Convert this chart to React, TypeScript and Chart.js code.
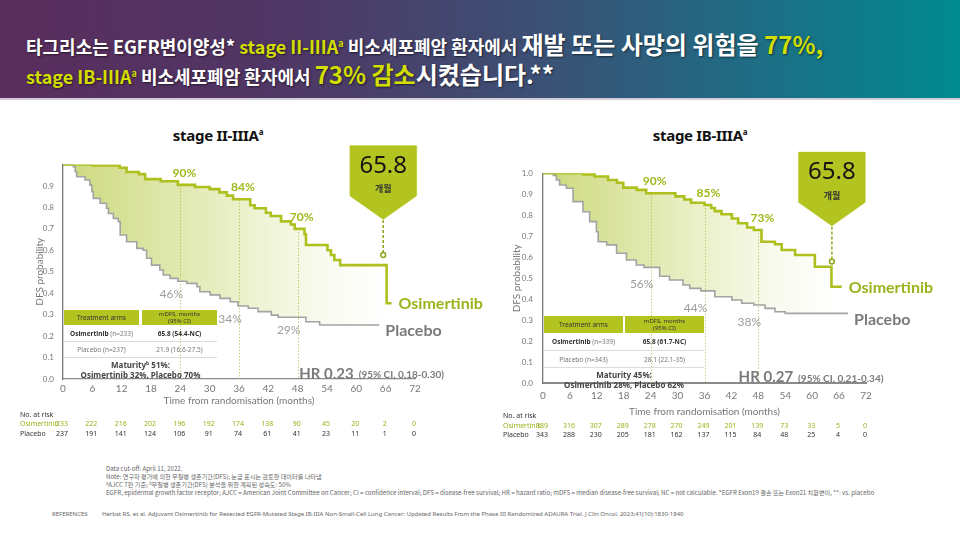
import React, { useEffect, useRef } from "react";
import { Chart, registerables } from "chart.js";

Chart.register(...registerables);

// ---------- data ----------
const monthTicks = [0, 6, 12, 18, 24, 30, 36, 42, 48, 54, 60, 66, 72];
const landmarkMonths = [24, 36, 48];

// stage II-IIIA
const osiIITime = [0, 6.1, 11.6, 13, 15.5, 16.8, 20, 23.5, 27, 30, 32, 33.5, 34.8, 38.3, 39.2, 41.5, 42.5, 44.6, 46.6, 47.4, 49.4, 49.7, 54.1, 54.8, 55.5, 56.7, 66.2, 67.2];
const osiIISurv = [1, 0.995, 0.985, 0.965, 0.955, 0.932, 0.922, 0.905, 0.895, 0.885, 0.87, 0.855, 0.838, 0.81, 0.796, 0.775, 0.76, 0.735, 0.72, 0.7, 0.675, 0.625, 0.6, 0.578, 0.555, 0.531, 0.353, 0.353];
const pboIITime = [0, 2.1, 2.5, 2.8, 4.5, 5.5, 5.9, 6.2, 7.6, 8.9, 9.3, 10.3, 11.3, 11.7, 13, 15.1, 16.4, 17.1, 18.1, 19.8, 20.5, 21.9, 23.5, 25.3, 27.4, 28, 30.1, 32.1, 34.2, 35.8, 37.9, 39.9, 42.6, 44, 49.7, 52.5, 64.7];
const pboIISurv = [1, 0.99, 0.966, 0.943, 0.928, 0.904, 0.873, 0.842, 0.819, 0.796, 0.772, 0.749, 0.733, 0.671, 0.64, 0.609, 0.6, 0.563, 0.531, 0.508, 0.485, 0.469, 0.456, 0.446, 0.43, 0.407, 0.392, 0.376, 0.36, 0.34, 0.33, 0.314, 0.298, 0.288, 0.267, 0.252, 0.252];
const osiIIPct = ["90%", "84%", "70%"];
const pboIIPct = ["46%", "34%", "29%"];
const riskOsiII = [233, 222, 216, 202, 196, 192, 174, 138, 90, 45, 20, 2, 0];
const riskPboII = [237, 191, 141, 124, 106, 91, 74, 61, 41, 23, 11, 1, 0];

// stage IB-IIIA
const osiIBTime = [0, 9, 11.5, 14.5, 16.5, 17.9, 20.9, 23, 29.5, 31.5, 33, 36, 37.5, 38.3, 39.8, 42.1, 43.5, 45.5, 47, 48.7, 51.7, 53.2, 56.2, 60.6, 64.3, 66.6];
const osiIBSurv = [1, 0.995, 0.985, 0.968, 0.955, 0.932, 0.921, 0.905, 0.89, 0.875, 0.86, 0.849, 0.835, 0.82, 0.805, 0.785, 0.762, 0.742, 0.73, 0.674, 0.662, 0.635, 0.611, 0.555, 0.46, 0.46];
const pboIBTime = [0, 2.3, 3, 3.7, 5.2, 6.7, 8.9, 10.4, 11.9, 12.3, 14.2, 16.4, 18.6, 20.8, 22.5, 26, 28.2, 31.2, 32.7, 35.2, 38.3, 42.1, 44.3, 47, 49.5, 51.7, 54, 68];
const pboIBSurv = [1, 0.99, 0.968, 0.944, 0.929, 0.865, 0.817, 0.77, 0.722, 0.674, 0.659, 0.619, 0.587, 0.563, 0.552, 0.51, 0.492, 0.468, 0.452, 0.44, 0.412, 0.397, 0.381, 0.373, 0.357, 0.341, 0.333, 0.333];
const osiIBPct = ["90%", "85%", "73%"];
const pboIBPct = ["56%", "44%", "38%"];
const riskOsiIB = [339, 316, 307, 289, 278, 270, 249, 201, 139, 73, 33, 5, 0];
const riskPboIB = [343, 288, 230, 205, 181, 162, 137, 115, 84, 48, 25, 4, 0];

// ---------- style ----------
const GREEN = "#adc01e";
const GREEN_TXT = "#a2b71a";
const GRAY_LINE = "#a3a3a3";
const YEL = "#d2de00";
const CH_FONT = "Lato";

type KMCfg = {
  osiT: number[]; osiS: number[]; pboT: number[]; pboS: number[];
  osiPct: string[]; pboPct: string[];
  riskOsi: number[]; riskPbo: number[];
  hr: string; ci: string; hrAt: number; hrDy: number;
  calloutAt: number; calloutY: number;
  showTop: boolean;
  pad: { left: number; right: number; top: number; bottom: number };
  yW: number; xH: number; xTickPad: number; xTitlePad: number; yTickPad: number; yTitlePad: number;
  riskX: number; riskY: number[];
  pboOff: number; bottomBorder: number;
};

function stepValue(t: number[], s: number[], m: number) {
  let v = s[0];
  for (let i = 0; i < t.length; i++) if (t[i] <= m) v = s[i];
  return v;
}

function makePlugin(cfg: KMCfg) {
  return {
    id: "kmDecor",
    beforeDatasetsDraw(chart: any) {
      const { ctx, chartArea: a, scales } = chart;
      const x = scales.x, y = scales.y;
      ctx.save();
      ctx.strokeStyle = "rgba(160,180,40,0.75)";
      ctx.lineWidth = 1;
      ctx.setLineDash([1.2, 2]);
      landmarkMonths.forEach((m) => {
        const px = Math.round(x.getPixelForValue(m)) + 0.5;
        const py = y.getPixelForValue(stepValue(cfg.osiT, cfg.osiS, m));
        ctx.beginPath();
        ctx.moveTo(px, py);
        ctx.lineTo(px, a.bottom);
        ctx.stroke();
      });
      ctx.restore();
    },
    afterDatasetsDraw(chart: any) {
      const { ctx, chartArea: a, scales } = chart;
      const x = scales.x, y = scales.y;
      ctx.save();
      ctx.textBaseline = "middle";
      ctx.textAlign = "center";
      // landmark percentages
      landmarkMonths.forEach((m, i) => {
        const px = x.getPixelForValue(m);
        const oy = y.getPixelForValue(stepValue(cfg.osiT, cfg.osiS, m));
        const gy = y.getPixelForValue(stepValue(cfg.pboT, cfg.pboS, m));
        ctx.font = `bold 12px ${CH_FONT}`;
        ctx.fillStyle = GREEN_TXT;
        ctx.fillText(cfg.osiPct[i], px + 4, oy - 12);
        ctx.font = `12px ${CH_FONT}`;
        ctx.fillStyle = "#9d9d9d";
        ctx.fillText(cfg.pboPct[i], px - 9, gy + cfg.pboOff);
      });

      // callout
      const cx = x.getPixelForValue(cfg.calloutAt);
      const cy = y.getPixelForValue(cfg.calloutY);
      ctx.strokeStyle = "#8fa318";
      ctx.lineWidth = 1.5;
      ctx.setLineDash([3, 2]);
      ctx.beginPath();
      ctx.moveTo(cx, cy - 35);
      ctx.lineTo(cx, cy - 3);
      ctx.stroke();
      ctx.setLineDash([]);
      ctx.beginPath();
      ctx.arc(cx, cy, 2.4, 0, Math.PI * 2);
      ctx.fillStyle = "#fff";
      ctx.fill();
      ctx.stroke();
      ctx.beginPath();
      ctx.moveTo(cx - 34, cy - 110);
      ctx.lineTo(cx + 34, cy - 110);
      ctx.lineTo(cx + 34, cy - 59);
      ctx.lineTo(cx, cy - 35);
      ctx.lineTo(cx - 34, cy - 59);
      ctx.closePath();
      ctx.fillStyle = "#b3c421";
      ctx.fill();
      ctx.strokeStyle = "rgba(255,255,255,0.7)";
      ctx.lineWidth = 1;
      ctx.stroke();
      ctx.fillStyle = "#151515";
      ctx.font = `24px "Noto Sans"`;
      ctx.fillText("65.8", cx, cy - 89);
      ctx.font = `bold 9px "Noto Sans CJK KR"`;
      ctx.fillStyle = "#333";
      ctx.fillText("개월", cx, cy - 66);

      // end labels
      ctx.textAlign = "left";
      const lo = cfg.osiT.length - 1, lp = cfg.pboT.length - 1;
      ctx.font = `bold 16px ${CH_FONT}`;
      ctx.fillStyle = "#9db21b";
      ctx.fillText("Osimertinib", x.getPixelForValue(cfg.osiT[lo]) + 7, y.getPixelForValue(cfg.osiS[lo]) + 1);
      ctx.fillStyle = "#7a7a7a";
      ctx.fillText("Placebo", x.getPixelForValue(cfg.pboT[lp]) + 6, y.getPixelForValue(cfg.pboS[lp]) + 6);

      // HR
      const hx = x.getPixelForValue(cfg.hrAt);
      const hy = a.bottom - cfg.hrDy;
      ctx.font = `bold 15px ${CH_FONT}`;
      ctx.fillStyle = "#7a7a7a";
      ctx.fillText(cfg.hr, hx, hy);
      const w = ctx.measureText(cfg.hr).width;
      ctx.font = `bold 10px ${CH_FONT}`;
      ctx.fillText(cfg.ci, hx + w + 5, hy + 1);

      // number at risk
      ctx.font = `7px "Noto Sans"`;
      ctx.fillStyle = "#333";
      ctx.fillText("No. at risk", cfg.riskX, cfg.riskY[0]);
      ctx.fillStyle = "#9db21b";
      ctx.fillText("Osimertinib", cfg.riskX, cfg.riskY[1]);
      ctx.fillStyle = "#333";
      ctx.fillText("Placebo", cfg.riskX, cfg.riskY[2]);
      ctx.textAlign = "center";
      monthTicks.forEach((m, i) => {
        const px = x.getPixelForValue(m) - 1;
        ctx.fillStyle = "#9db21b";
        ctx.fillText(String(cfg.riskOsi[i]), px, cfg.riskY[1]);
        ctx.fillStyle = "#333";
        ctx.fillText(String(cfg.riskPbo[i]), px, cfg.riskY[2]);
      });
      ctx.restore();
    },
  };
}

function fillGradient(c: any) {
  const chart = c.chart;
  const a = chart.chartArea;
  if (!a) return "rgba(210,222,140,0.6)";
  const g = chart.ctx.createLinearGradient(a.left, 0, a.right - 25, 0);
  g.addColorStop(0, "rgb(204,217,124)");
  g.addColorStop(0.45, "rgb(230,237,190)");
  g.addColorStop(0.8, "rgb(249,251,240)");
  g.addColorStop(1, "rgb(255,255,255)");
  return g;
}

function buildConfig(cfg: KMCfg): any {
  return {
    type: "line",
    data: {
      datasets: [
        {
          label: "Osimertinib",
          data: cfg.osiT.map((t, i) => ({ x: t, y: cfg.osiS[i] })),
          stepped: "before",
          borderColor: GREEN,
          borderWidth: 2.6,
          pointRadius: 0,
          fill: { target: 1 },
          backgroundColor: fillGradient,
        },
        {
          label: "Placebo",
          data: cfg.pboT.map((t, i) => ({ x: t, y: cfg.pboS[i] })),
          stepped: "before",
          borderColor: GRAY_LINE,
          borderWidth: 1.6,
          pointRadius: 0,
          fill: false,
        },
      ],
    },
    options: {
      responsive: false,
      animation: false,
      layout: { padding: cfg.pad },
      plugins: {
        legend: { display: false },
        tooltip: { enabled: false },
        filler: { drawTime: "beforeDatasetsDraw" },
      },
      scales: {
        x: {
          type: "linear",
          min: 0,
          max: 72,
          afterBuildTicks: (s: any) => { s.ticks = monthTicks.map((v) => ({ value: v })); },
          ticks: { autoSkip: false, maxRotation: 0, padding: cfg.xTickPad, color: "#777", font: { family: CH_FONT, size: 10 } },
          grid: { display: false, drawTicks: false },
          border: { display: true, color: "#8a8a8a", width: cfg.bottomBorder },
          title: { display: true, text: "Time from randomisation (months)", color: "#777", font: { family: CH_FONT, size: 10 }, padding: { top: 0, bottom: cfg.xTitlePad } },
          afterFit: (s: any) => { s.height = cfg.xH; },
        },
        y: {
          min: 0,
          max: 1,
          ticks: {
            stepSize: 0.1,
            padding: cfg.yTickPad,
            color: "#777",
            font: { family: CH_FONT, size: 8 },
            callback: (v: any) => (!cfg.showTop && v > 0.99 ? "" : Number(v).toFixed(1)),
          },
          grid: { display: false, drawTicks: false },
          border: { display: true, color: "#777", width: 1.3 },
          title: { display: true, text: "DFS probability", color: "#777", font: { family: CH_FONT, size: 10 }, padding: { top: cfg.yTitlePad, bottom: 0 } },
          afterFit: (s: any) => { s.width = cfg.yW; },
        },
      },
    },
    plugins: [makePlugin(cfg)],
  };
}

const cfgII: KMCfg = {
  osiT: osiIITime, osiS: osiIISurv, pboT: pboIITime, pboS: pboIISurv,
  osiPct: osiIIPct, pboPct: pboIIPct, riskOsi: riskOsiII, riskPbo: riskPboII,
  hr: "HR 0.23", ci: "(95% CI, 0.18-0.30)", hrAt: 48.3, hrDy: 5,
  calloutAt: 65.5, calloutY: 0.578, showTop: false,
  pad: { left: 33, right: 85, top: 54.5, bottom: 31 },
  yW: 30, xH: 30, xTickPad: 4, xTitlePad: 2, yTickPad: 9, yTitlePad: 1,
  riskX: 20, riskY: [305, 313.5, 324], pboOff: 13, bottomBorder: 1.3,
};

const cfgIB: KMCfg = {
  osiT: osiIBTime, osiS: osiIBSurv, pboT: pboIBTime, pboS: pboIBSurv,
  osiPct: osiIBPct, pboPct: pboIBPct, riskOsi: riskOsiIB, riskPbo: riskPboIB,
  hr: "HR 0.27", ci: "(95% CI, 0.21-0.34)", hrAt: 43.6, hrDy: 6,
  calloutAt: 64.4, calloutY: 0.58, showTop: true,
  pad: { left: 29, right: 94, top: 63.3, bottom: 20.7 },
  yW: 34, xH: 36, xTickPad: 6, xTitlePad: 1.6, yTickPad: 10, yTitlePad: 1.7,
  riskX: 23, riskY: [306, 316, 324.7], pboOff: 17, bottomBorder: 2,
};

function KMChart(p: { cfg: KMCfg; left: number; top: number; width: number; height: number }) {
  const ref = useRef<HTMLCanvasElement>(null);
  useEffect(() => {
    const chart = new Chart(ref.current as HTMLCanvasElement, buildConfig(p.cfg));
    return () => chart.destroy();
  }, []);
  return (
    <div style={{ position: "absolute", left: p.left, top: p.top, width: p.width, height: p.height }}>
      <canvas ref={ref} width={p.width} height={p.height} style={{ width: p.width, height: p.height, display: "block" }} />
    </div>
  );
}

function ArmTable(p: {
  left: number; top: number; w1: number; w2: number; gap: number; headH: number; rowH: number;
  n1: string; n2: string; m1: string; m2: string; mat1: React.ReactNode; mat2: string;
}) {
  const W = p.w1 + p.gap + p.w2;
  const cell: React.CSSProperties = { display: "flex", alignItems: "center", justifyContent: "center", textAlign: "center" };
  return (
    <div style={{ position: "absolute", left: p.left, top: p.top, width: W, fontFamily: '"Noto Sans", sans-serif', color: "#333" }}>
      <div style={{ display: "flex", height: p.headH }}>
        <div style={{ ...cell, width: p.w1, background: "#b3c421", fontSize: 6.5 }}>Treatment arms</div>
        <div style={{ width: p.gap }} />
        <div style={{ ...cell, width: p.w2, background: "#b3c421", fontSize: 6, lineHeight: "6.5px", flexDirection: "column" }}>
          <div>mDFS, months</div>
          <div>(95% CI)</div>
        </div>
      </div>
      <div style={{ display: "flex", height: p.rowH, borderBottom: "1px solid #dcdcdc", fontSize: 6.5 }}>
        <div style={{ ...cell, width: p.w1 }}><b>Osimertinib</b>&nbsp;<span style={{ color: "#777" }}>{p.n1}</span></div>
        <div style={{ width: p.gap }} />
        <div style={{ ...cell, width: p.w2, fontWeight: 700 }}>{p.m1}</div>
      </div>
      <div style={{ display: "flex", height: p.rowH - 1, borderBottom: "1px solid #dcdcdc", fontSize: 6.5, color: "#777" }}>
        <div style={{ ...cell, width: p.w1 }}>Placebo {p.n2}</div>
        <div style={{ width: p.gap }} />
        <div style={{ ...cell, width: p.w2 }}>{p.m2}</div>
      </div>
      <div style={{ textAlign: "center", fontWeight: 700, fontSize: 8, lineHeight: "10px", marginTop: 2, color: "#444" }}>
        <div>{p.mat1}</div>
        <div>{p.mat2}</div>
      </div>
    </div>
  );
}

export default function App() {
  const sup = (t: string, size = 9, off = 7) => (
    <span style={{ fontSize: size, verticalAlign: off, lineHeight: 0 }}>{t}</span>
  );
  const titleStyle: React.CSSProperties = { position: "absolute", left: 26, whiteSpace: "nowrap", color: "#fff", fontFamily: '"Noto Sans CJK KR", sans-serif', fontWeight: 700, lineHeight: "32px", textShadow: "1px 1px 2px rgba(0,0,0,0.55)" };
  return (
    <div style={{ position: "absolute", left: 0, top: 0, width: 960, height: 534, background: "#fff", overflow: "hidden", fontFamily: '"Noto Sans", sans-serif' }}>
      <div style={{ position: "absolute", left: 0, top: 0, width: 960, height: 98, background: "linear-gradient(90deg, #5a2d5d 0%, #4f3765 30%, #3d4f74 55%, #1f6c84 78%, #008b8f 100%)" }} />
      <div style={{ position: "absolute", left: 0, top: 98, width: 960, height: 2, background: "#d3cdd9" }} />
      <div style={{ ...titleStyle, top: 28 }}>
        <span style={{ fontSize: 18 }}>타그리소는 EGFR변이양성* </span>
        <span style={{ fontSize: 18, color: YEL }}>stage II-IIIA{sup("a")}</span>
        <span style={{ fontSize: 18 }}> 비소세포폐암 환자에서 </span>
        <span style={{ fontSize: 24 }}>재발 또는 사망의 위험을 </span>
        <span style={{ fontSize: 24, color: YEL }}>77%,</span>
      </div>
      <div style={{ ...titleStyle, top: 58 }}>
        <span style={{ fontSize: 18, color: YEL }}>stage IB-IIIA{sup("a")}</span>
        <span style={{ fontSize: 18 }}> 비소세포폐암 환자에서 </span>
        <span style={{ fontSize: 24, color: YEL }}>73% 감소</span>
        <span style={{ fontSize: 24 }}>시켰습니다.**</span>
      </div>

      <div style={{ position: "absolute", left: 118, width: 200, top: 124, textAlign: "center", fontWeight: 700, fontSize: 15, color: "#111", lineHeight: "22px", letterSpacing: -0.3 }}>
        stage II-IIIA{sup("a", 8, 6)}
      </div>
      <div style={{ position: "absolute", left: 600, width: 200, top: 124, textAlign: "center", fontWeight: 700, fontSize: 15, color: "#111", lineHeight: "22px", letterSpacing: -0.3 }}>
        stage IB-IIIA{sup("a", 8, 6)}
      </div>

      <KMChart cfg={cfgII} left={0} top={110} width={500} height={330} />
      <KMChart cfg={cfgIB} left={480} top={110} width={480} height={330} />

      <ArmTable left={64} top={310} w1={75} w2={75} gap={3} headH={15} rowH={16}
        n1="(n=233)" n2="(n=237)" m1="65.8 (54.4-NC)" m2="21.9 (16.6-27.5)"
        mat1={<>Maturity{sup("b", 5, 3)} 51%:</>} mat2="Osimertinib 32%, Placebo 70%" />
      <ArmTable left={544} top={316} w1={79} w2={79} gap={2} headH={17} rowH={17}
        n1="(n=339)" n2="(n=343)" m1="65.8 (61.7-NC)" m2="28.1 (22.1-35)"
        mat1="Maturity 45%:" mat2="Osimertinib 28%, Placebo 62%" />

      <div style={{ position: "absolute", left: 106, top: 465, fontSize: 6.15, lineHeight: "8px", color: "#666", whiteSpace: "nowrap", fontFamily: '"Noto Sans CJK KR", sans-serif' }}>
        <div>Data cut-off: April 11, 2022.</div>
        <div>Note: 연구자 평가에 의한 무질병 생존기간(DFS); 눈금 표시는 검토한 데이터를 나타냄</div>
        <div>{sup("a", 4, 2)}AJCC 7판 기준; {sup("b", 4, 2)}무질병 생존기간(DFS) 분석을 위한 계획된 성숙도: 50%</div>
        <div>EGFR, epidermal growth factor receptor; AJCC = American Joint Committee on Cancer; CI = confidence interval; DFS = disease-free survival; HR = hazard ratio; mDFS = median disease-free survival; NC = not calculable. *EGFR Exon19 결손 또는 Exon21 치환변이, **: vs. placebo</div>
      </div>
      <div style={{ position: "absolute", left: 52, top: 510, fontSize: 6, lineHeight: "8px", color: "#666", whiteSpace: "nowrap" }}>REFERENCES</div>
      <div style={{ position: "absolute", left: 102, top: 510, fontSize: 6, lineHeight: "8px", color: "#666", whiteSpace: "nowrap" }}>
        Herbst RS, et al. Adjuvant Osimertinib for Resected EGFR-Mutated Stage IB-IIIA Non-Small-Cell Lung Cancer: Updated Results From the Phase III Randomized ADAURA Trial. J Clin Oncol. 2023;41(10):1830-1840
      </div>
    </div>
  );
}
